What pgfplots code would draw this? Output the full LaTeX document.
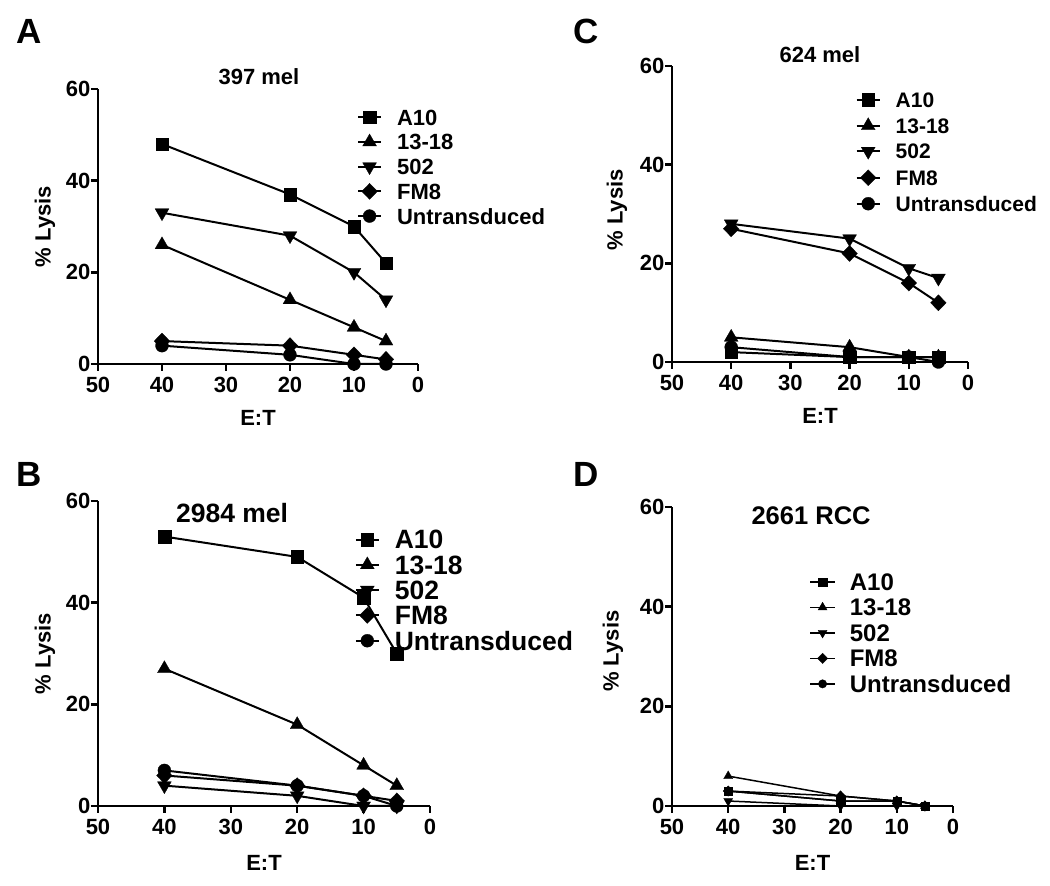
\documentclass[border=0pt]{standalone}
\usepackage{fontspec}
\setmainfont{Liberation Sans}
\usepackage{pgfplots}
\pgfplotsset{compat=1.18}
\newcommand\bigf{\fontsize{22}{26}\selectfont\bfseries}
\newcommand\fsz[1]{\fontsize{#1}{#1}\selectfont\bfseries}
\newcommand\letf{\fontsize{35}{40}\selectfont\bfseries}
\pgfplotsset{
  panel/.style={
    scale only axis, xmin=0, xmax=50, ymin=0, ymax=60, x dir=reverse,
    axis x line*=bottom, axis y line*=left,
    xtick={0,10,20,30,40,50}, ytick={0,20,40,60},
    tick align=outside, major tick length=7pt,
    axis line style={line width=2.5pt, -},
    every tick/.style={black, line width=2.5pt},
    tick label style={font=\bigf},
    xticklabel style={yshift=-3pt},
    yticklabel style={xshift=3pt},
    /pgf/number format/assume math mode=true,
    label style={font=\bigf},
    title style={font=\bigf, anchor=base},
    clip=false,
    every axis plot/.append style={black, line width=2pt},
    legend cell align=left,
    legend image code/.code={\draw[mark repeat=2,mark phase=2] plot coordinates {(0pt,0pt) (11.5pt,0pt) (23pt,0pt)};},
    legend style={draw=none, fill=none, anchor=north west, inner sep=0pt, font=\bigf,
      nodes={text height=16pt, text depth=0pt, inner ysep=0pt, inner xsep=0pt},
      /tikz/every odd column/.append style={column sep=15pt}},
    xlabel={E:T}, ylabel={\% Lysis},
  },
  s1/.style={mark=square*, mark size=#1*6.3pt, mark options={solid, line width=0.3pt}},
  s1/.default=1,
  s2/.style={mark=triangle*, mark size=#1*8pt, mark options={solid, line width=0.3pt}},
  s2/.default=1,
  s3/.style={mark=triangle*, mark size=#1*8pt, mark options={solid, line width=0.3pt, rotate=180}},
  s3/.default=1,
  s4/.style={mark=diamond*, mark size=#1*8pt, mark options={solid, line width=0.3pt, xscale=1.3}},
  s4/.default=1,
  s5/.style={mark=*, mark size=#1*6.5pt, mark options={solid, line width=0.3pt}},
  s5/.default=1,
}
\begin{document}
\begin{tikzpicture}
\useasboundingbox (0,0) rectangle (1050pt,886pt);
% Panel A
\begin{axis}[panel, at={(98pt,522pt)}, anchor=south west, width=320pt, height=275pt,
  title={397 mel}, title style={at={(axis description cs:0.503,0.996)}},
  ylabel style={at={(axis description cs:-0.166,0.5)}, anchor=center},
  xlabel style={at={(axis description cs:0.5,-0.196)}, anchor=center},
  legend style={at={(axis description cs:0.809,0.927)}, row sep=8.7pt}]
\addplot[s1] coordinates {(40,48) (20,37) (10,30) (5,22)};
\addplot[s2] coordinates {(40,26) (20,14) (10,8) (5,5)};
\addplot[s3] coordinates {(40,33) (20,28) (10,20) (5,14)};
\addplot[s4] coordinates {(40,5) (20,4) (10,2) (5,1)};
\addplot[s5] coordinates {(40,4) (20,2) (10,0) (5,0)};
\legend{A10,13-18,502,FM8,Untransduced}
\end{axis}
% Panel C
\begin{axis}[panel, at={(672pt,524pt)}, anchor=south west, width=296pt, height=296pt,
  title={624 mel}, title style={at={(axis description cs:0.5,0.993)}},
  ylabel style={at={(axis description cs:-0.186,0.514)}, anchor=center},
  xlabel style={at={(axis description cs:0.5,-0.182)}, anchor=center},
  legend style={at={(axis description cs:0.62,0.912)}, row sep=10.5pt, font=\fsz{21},
    nodes={text height=15pt}}]
\addplot[s1] coordinates {(40,2) (20,1) (10,1) (5,1)};
\addplot[s2] coordinates {(40,5) (20,3) (10,1) (5,1)};
\addplot[s3] coordinates {(40,28) (20,25) (10,19) (5,17)};
\addplot[s4] coordinates {(40,27) (20,22) (10,16) (5,12)};
\addplot[s5] coordinates {(40,3) (20,1) (10,1) (5,0)};
\legend{A10,13-18,502,FM8,Untransduced}
\end{axis}
% Panel B
\begin{axis}[panel, at={(98pt,80pt)}, anchor=south west, width=332pt, height=305pt,
  title={2984 mel}, title style={at={(axis description cs:0.404,0.911)}, font=\fsz{26.5}},
  ylabel style={at={(axis description cs:-0.16,0.5)}, anchor=center},
  xlabel style={at={(axis description cs:0.5,-0.187)}, anchor=center},
  legend style={at={(axis description cs:0.773,0.905)}, row sep=6.6pt, font=\fsz{26.5},
    nodes={text height=18.7pt}}]
\addplot[s1] coordinates {(40,53) (20,49) (10,41) (5,30)};
\addplot[s2] coordinates {(40,27) (20,16) (10,8) (5,4)};
\addplot[s3] coordinates {(40,4) (20,2) (10,0) (5,0)};
\addplot[s4] coordinates {(40,6) (20,4) (10,2) (5,1)};
\addplot[s5] coordinates {(40,7) (20,4) (10,2) (5,0)};
\legend{A10,13-18,502,FM8,Untransduced}
\end{axis}
% Panel D
\begin{axis}[panel, at={(672pt,80pt)}, anchor=south west, width=281pt, height=299pt,
  every axis plot/.append style={line width=1.5pt},
  title={2661 RCC}, title style={at={(axis description cs:0.495,0.923)}, font=\fsz{25.5}},
  ylabel style={at={(axis description cs:-0.21,0.518)}, anchor=center},
  xlabel style={at={(axis description cs:0.5,-0.191)}, anchor=center},
  legend image code/.code={\draw[mark repeat=2,mark phase=2] plot coordinates {(0pt,0pt) (12.5pt,0pt) (25pt,0pt)};},
  legend style={at={(axis description cs:0.488,0.779)}, row sep=8.3pt, font=\fsz{24},
    nodes={text height=17.2pt},
    /tikz/every odd column/.append style={column sep=14pt}}]
\addplot[s1=0.65] coordinates {(40,3) (20,1) (10,1) (5,0)};
\addplot[s2=0.65] coordinates {(40,6) (20,2) (10,1) (5,0)};
\addplot[s3=0.65] coordinates {(40,1) (20,0) (10,0) (5,0)};
\addplot[s4=0.65] coordinates {(40,3) (20,2) (10,1) (5,0)};
\addplot[s5=0.65] coordinates {(40,3) (20,1) (10,1) (5,0)};
\legend{A10,13-18,502,FM8,Untransduced}
\end{axis}
\node[font=\letf, anchor=base west] at (13pt,842pt) {A};
\node[font=\letf, anchor=base west] at (570pt,842pt) {C};
\node[font=\letf, anchor=base west] at (13pt,399pt) {B};
\node[font=\letf, anchor=base west] at (570pt,399pt) {D};
\end{tikzpicture}
\end{document}
